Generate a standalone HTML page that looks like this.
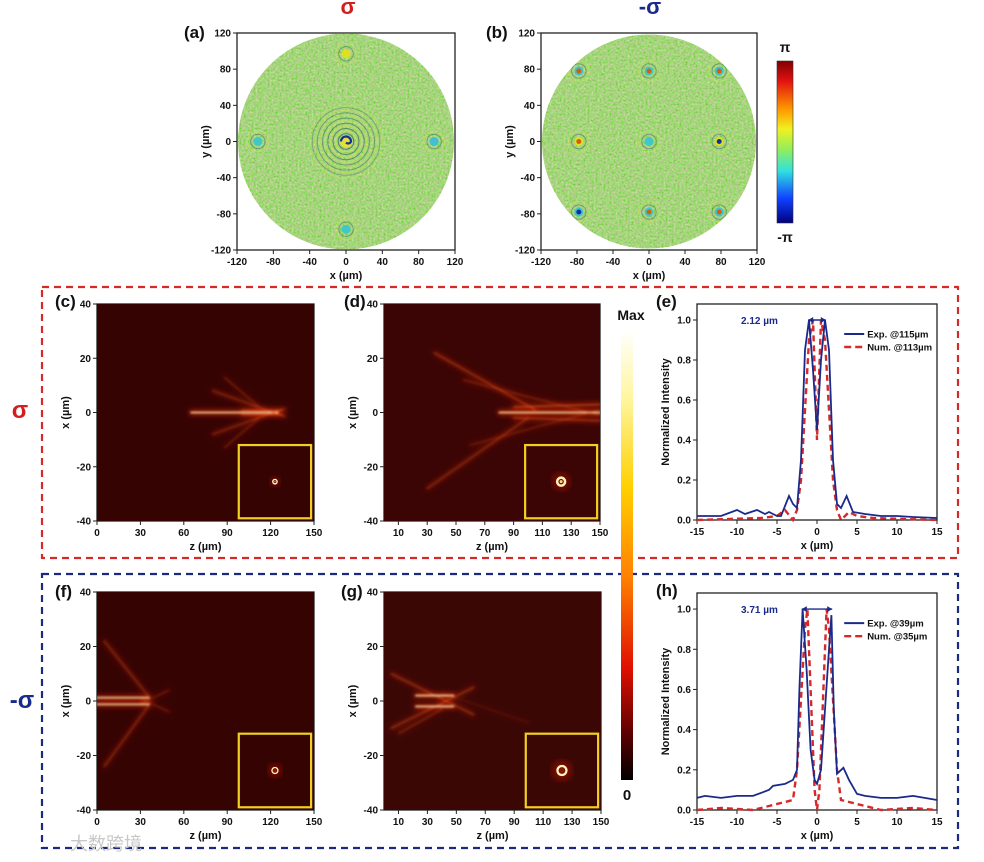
<!DOCTYPE html>
<html><head><meta charset="utf-8"><style>
html,body{margin:0;padding:0;background:#fff;}
svg{display:block;font-family:"Liberation Sans","Noto Sans CJK SC",sans-serif;}
</style></head><body>
<svg id="fig" width="984" height="862" viewBox="0 0 984 862" xmlns="http://www.w3.org/2000/svg">
<defs>
<linearGradient id="jet" x1="0" y1="0" x2="0" y2="1">
<stop offset="0" stop-color="#7f0000"/><stop offset="0.12" stop-color="#e01010"/><stop offset="0.3" stop-color="#ff9a00"/><stop offset="0.42" stop-color="#f0f020"/><stop offset="0.55" stop-color="#90ee60"/><stop offset="0.68" stop-color="#30e0e0"/><stop offset="0.85" stop-color="#1040ff"/><stop offset="1" stop-color="#00007f"/></linearGradient>
<linearGradient id="hot" x1="0" y1="0" x2="0" y2="1">
<stop offset="0" stop-color="#ffffff"/><stop offset="0.15" stop-color="#fff6a0"/><stop offset="0.35" stop-color="#ffd000"/><stop offset="0.55" stop-color="#ff8000"/><stop offset="0.75" stop-color="#e01000"/><stop offset="0.9" stop-color="#5a0000"/><stop offset="1" stop-color="#000000"/></linearGradient>
<filter id="noise" x="0" y="0" width="100%" height="100%">
<feTurbulence type="fractalNoise" baseFrequency="0.5" numOctaves="2" seed="3"/>
<feColorMatrix type="matrix" values="1.3 0 0 0 -0.15  0 0.7 0 0 0.3  1.0 0 0 0 -0.2  0 0 0 0 0.6"/>
</filter>
<filter id="blur1"><feGaussianBlur stdDeviation="1"/></filter>
<filter id="blur3"><feGaussianBlur stdDeviation="3"/></filter>
<filter id="blur4"><feGaussianBlur stdDeviation="4"/></filter>
</defs>
<g id="root"></g>
</svg>
<script>
// ---------- data ----------
const phaseTicks = [-120,-80,-40,0,40,80,120];
const zTicksA = [0,30,60,90,120,150];
const zTicksB = [10,30,50,70,90,110,130,150];
const xTicksHeat = [-40,-20,0,20,40];
const profTicksX = [-15,-10,-5,0,5,10,15];
const profTicksY = [0,0.2,0.4,0.6,0.8,1.0];
const spotsA_x = [0,-97,97,0,0];
const spotsA_y = [0,0,0,97,-97];
const spotsB_x = [-78,0,78,-78,0,78,-78,0,78];
const spotsB_y = [78,78,78,0,0,0,-78,-78,-78];
// beams: z1, x1, z2, x2, intensity (0..1)
const beamsC = [[65,0,125,0,1.0],[80,8,130,-1.5,0.4],[80,-8,130,1.5,0.4],[88,13,112,2,0.25],[88,-13,112,-2,0.25],[100,0.8,128,0.8,0.55],[100,-0.8,128,-0.8,0.55]];
const beamsD = [[35,22,105,1,0.5],[30,-28,100,-2,0.4],[80,0,150,0,1.0],[90,2,150,3,0.65],[90,-2,150,-3,0.55],[55,12,150,-1,0.3],[60,-12,150,1,0.25]];
const beamsF = [[0,1.2,36,1.2,0.9],[0,-1.2,36,-1.2,0.9],[5,22,36,1.5,0.4],[5,-24,36,-1.5,0.4],[30,1,50,-4,0.25],[30,-1,50,4,0.25]];
const beamsG = [[5,10,62,-5,0.45],[5,-10,62,5,0.45],[22,2,48,2,0.95],[22,-2,48,-2,0.95],[10,-12,40,-3,0.3],[40,3,100,-8,0.12]];
const expE_x = [-15,-12,-10,-9,-7.5,-6.5,-6,-5,-4.5,-3.5,-3,-2.5,-2,-1.5,-1,-0.5,0,0.5,1,1.5,2,2.5,3,3.7,4.5,6,8,10,12,15];
const expE_y = [0.02,0.02,0.05,0.03,0.05,0.03,0.04,0.02,0.02,0.12,0.08,0.06,0.3,0.85,1.0,0.75,0.45,0.8,1.0,0.85,0.3,0.08,0.06,0.12,0.04,0.03,0.02,0.02,0.015,0.01];
const numE_x = [-15,-7,-5,-4,-3,-2.5,-2,-1.5,-1,-0.5,0,0.5,1,1.5,2,2.5,3,4,5,7,15];
const numE_y = [0,0.01,0.02,0.05,0,0.05,0.2,0.55,0.9,1.0,0.4,1.0,0.9,0.55,0.2,0.05,0,0.04,0.02,0.01,0];
const expH_x = [-15,-14,-12,-10,-8,-6,-5.5,-4,-3,-2.5,-2.2,-1.8,-1.3,-0.8,-0.3,0,0.5,1,1.5,1.8,2.1,2.5,3.3,4,5,6,8,10,12,15];
const expH_y = [0.06,0.07,0.06,0.07,0.07,0.1,0.12,0.13,0.15,0.2,0.6,1.0,0.7,0.3,0.15,0.13,0.2,0.5,0.8,0.97,0.5,0.18,0.21,0.15,0.08,0.07,0.06,0.06,0.07,0.05];
const numH_x = [-15,-12,-8,-6,-4,-3,-2.5,-2,-1.5,-1.2,-0.8,-0.3,0,0.3,0.8,1.2,1.5,2,2.5,3,4,6,8,12,15];
const numH_y = [0,0.01,0,0.02,0.04,0.05,0.2,0.55,0.9,1.0,0.6,0.1,0,0.1,0.6,1.0,0.9,0.55,0.2,0.05,0.04,0.02,0,0.01,0];

// ---------- helpers ----------
const NS = "http://www.w3.org/2000/svg";
const root = document.getElementById('root');
function el(tag, attrs, parent){
  const e = document.createElementNS(NS, tag);
  for (const k in attrs) e.setAttribute(k, attrs[k]);
  (parent||root).appendChild(e);
  return e;
}
function txt(s, x, y, size, opts, parent){
  const t = el('text', Object.assign({x:x, y:y, 'font-size':size, 'font-weight':'bold', fill:'#111'}, opts||{}), parent);
  t.textContent = s;
  return t;
}
function scale(d0,d1,p0,p1){ return v => p0 + (v-d0)/(d1-d0)*(p1-p0); }

function axes(name, box, xr, yr, xt, yt, xlabel, ylabel, yfmt){
  const g = el('g', {});
  
  
  const sx = scale(xr[0], xr[1], box[0], box[2]);
  const sy = scale(yr[0], yr[1], box[3], box[1]);
  el('rect', {x:box[0], y:box[1], width:box[2]-box[0], height:box[3]-box[1], fill:'none', stroke:'#222', 'stroke-width':1.3}, g);
  xt.forEach(v => {
    const x = sx(v);
    el('line', {x1:x, y1:box[3], x2:x, y2:box[3]+4, stroke:'#222', 'stroke-width':1}, g);
    const t = txt(String(v), x, box[3]+15, 10, {'text-anchor':'middle'}, g);
    
    
  });
  yt.forEach(v => {
    const y = sy(v);
    el('line', {x1:box[0]-4, y1:y, x2:box[0], y2:y, stroke:'#222', 'stroke-width':1}, g);
    const t = txt(yfmt ? yfmt(v) : String(v), box[0]-6, y+3.5, 10, {'text-anchor':'end'}, g);
    
    
  });
  const xl = txt(xlabel, (box[0]+box[2])/2, box[3]+29, 11, {'text-anchor':'middle'}, g);
  
  
  const cy = (box[1]+box[3])/2;
  const yl = txt(ylabel, 0, 0, 11, {'text-anchor':'middle', transform:`translate(${box[0]-28},${cy}) rotate(-90)`}, g);
  
  
  return {sx, sy, g};
}
function panelLabel(s, x, y){
  const t = txt(s, x, y, 17, {});
  
  
}

// ---------- phase panels ----------
function phasePanel(name, box, sxs, sys, isA){
  const a = axes(name, box, [-120,120], [-120,120], phaseTicks, phaseTicks, 'x (µm)', 'y (µm)');
  const cx = a.sx(0), cy = a.sy(0), r = a.sx(120)-a.sx(0) - 1;
  const cid = name + '-clip';
  const cp = el('clipPath', {id:cid}, a.g);
  el('circle', {cx:cx, cy:cy, r:r}, cp);
  const disc = el('g', {'clip-path':`url(#${cid})`}, a.g);
  
  
  el('circle', {cx:cx, cy:cy, r:r, fill:'#86d85a'}, disc);
  el('rect', {x:cx-r, y:cy-r, width:2*r, height:2*r, filter:'url(#noise)'}, disc);
  for (let i=0;i<sxs.length;i++){
    const px = a.sx(sxs[i]), py = a.sy(sys[i]);
    const big = isA && i===0;
    const spot = el('g', {}, disc);
    
    
    const nr = big ? 14 : 2;
    for (let k=nr;k>=1;k--){
      el('circle', {cx:px, cy:py, r:(big? k*2.6 : 4+k*3.2), fill:'none', stroke: k%2 ? '#2a5a60' : '#d8e840', 'stroke-width':1, opacity: big ? (0.8 - k*0.035) : 0.45}, spot);
    }
    const col = (i%3===1) ? '#40c8c8' : (i%2 ? '#e0e020' : '#40c0d0');
    el('circle', {cx:px, cy:py, r: big?6:4.5, fill: big ? '#e8e030' : col}, spot);
    if (big){
      el('path', {d:`M${px-5} ${py} A5 5 0 0 1 ${px+5} ${py} A3 3 0 0 1 ${px} ${py+1}`, fill:'none', stroke:'#1030a0', 'stroke-width':2.2}, spot);
    } else if (!isA && i!==4) {
      el('circle', {cx:px, cy:py, r:2.5, fill: (i===5||i===6) ? '#1030a0' : '#d06010'}, spot);
    }
  }
}
phasePanel('phase-map-sigma', [237,33,455,250], spotsA_x, spotsA_y, true);
phasePanel('phase-map-minus-sigma', [541,33,757,250], spotsB_x, spotsB_y, false);
panelLabel('(a)', 184, 38);
panelLabel('(b)', 486, 38);
let t;
t = txt('σ', 348, 14, 22, {fill:'#d21e1e','text-anchor':'middle'});  
t = txt('-σ', 650, 14, 22, {fill:'#1a2a8a','text-anchor':'middle'});  
// phase colorbar
let cb = el('rect', {x:777, y:61, width:16, height:162, fill:'url(#jet)', stroke:'#333', 'stroke-width':0.6});
 
t = txt('π', 785, 52, 14, {'text-anchor':'middle'});  
t = txt('-π', 785, 242, 14, {'text-anchor':'middle'});  

// ---------- group boxes ----------
let bx = el('rect', {x:42, y:287, width:916, height:271, fill:'none', stroke:'#d42a2a', 'stroke-width':2.2, 'stroke-dasharray':'7 5'});
 
bx = el('rect', {x:42, y:574, width:916, height:274, fill:'none', stroke:'#1a2a80', 'stroke-width':2.2, 'stroke-dasharray':'7 5'});
 
t = txt('σ', 20, 418, 24, {fill:'#d21e1e','text-anchor':'middle'});  
t = txt('-σ', 22, 708, 24, {fill:'#1a2a8a','text-anchor':'middle'});  

// ---------- heatmaps ----------
function heatPanel(name, box, zt, beams, ringInset, bg){
  const a = axes(name, box, [0,150], [-40,40], zt, xTicksHeat, 'z (µm)', 'x (µm)');
  const cid = name+'-clip';
  const cp = el('clipPath', {id:cid}, a.g);
  el('rect', {x:box[0], y:box[1], width:box[2]-box[0], height:box[3]-box[1]}, cp);
  const m = el('g', {'clip-path':`url(#${cid})`}, a.g);
  el('rect', {x:box[0], y:box[1], width:box[2]-box[0], height:box[3]-box[1], fill:bg}, m);
  const glow = el('g', {filter:'url(#blur3)'}, m);
  const core = el('g', {filter:'url(#blur1)'}, m);
  beams.forEach(b => {
    const l = el('line', {x1:a.sx(b[0]), y1:a.sy(b[1]), x2:a.sx(b[2]), y2:a.sy(b[3]), stroke:'#e82a06', 'stroke-width':4, 'stroke-linecap':'round', opacity:b[4]*0.8}, glow);
     
    const c = el('line', {x1:a.sx(b[0]), y1:a.sy(b[1]), x2:a.sx(b[2]), y2:a.sy(b[3]), stroke: b[4]>0.8 ? '#fff0b0' : '#ff7a30', 'stroke-width': b[4]>0.8 ? 1.6 : 1.0, 'stroke-linecap':'round', opacity:b[4]}, core);
     
  });
  // inset
  const ix0 = a.sx(98), ix1 = a.sx(148), iy0 = a.sy(-12), iy1 = a.sy(-39);
  const ins = el('g', {}, m);
   
  el('rect', {x:ix0, y:iy0, width:ix1-ix0, height:iy1-iy0, fill:bg}, ins);
  const cx = (ix0+ix1)/2, cy = (iy0+iy1)/2;
  el('circle', {cx:cx, cy:cy, r:ringInset[0]*2.2, fill:'#c81800', opacity:0.5, filter:'url(#blur4)'}, ins);
  el('circle', {cx:cx, cy:cy, r:ringInset[0], fill:'none', stroke:'#fff4c0', 'stroke-width':ringInset[1]}, ins);
  el('circle', {cx:cx, cy:cy, r:Math.max(ringInset[0]-ringInset[1],0.8), fill:ringInset[2]}, ins);
  el('rect', {x:ix0, y:iy0, width:ix1-ix0, height:iy1-iy0, fill:'none', stroke:'#f0d020', 'stroke-width':2.2}, ins);
  return a;
}
heatPanel('intensity-map-c', [97,304,314,521], zTicksA, beamsC, [2.2,1.4,'#ff7a40'], '#360303');
heatPanel('intensity-map-d', [384,304,600,521], zTicksB, beamsD, [4,2.5,'#ffe080'], '#3a0504');
heatPanel('intensity-map-f', [97,592,314,810], zTicksA, beamsF, [3,1.3,'#a01000'], '#360303');
heatPanel('intensity-map-g', [384,592,601,810], zTicksB, beamsG, [4.5,2.2,'#802000'], '#3a0705');
panelLabel('(c)', 55, 307);
panelLabel('(d)', 344, 307);
panelLabel('(f)', 55, 597);
panelLabel('(g)', 341, 597);
// intensity colorbar
cb = el('rect', {x:621, y:330, width:12, height:450, fill:'url(#hot)'});
 
t = txt('Max', 631, 320, 14, {'text-anchor':'middle'});  
t = txt('0', 627, 800, 15, {'text-anchor':'middle'});  

// ---------- profile plots ----------
function profile(name, box, ex, ey, nx, ny, wlabel, l1, l2, arrowX){
  const a = axes(name, box, [-15,15], [0,1.08], profTicksX, profTicksY, 'x (µm)', 'Normalized Intensity', v => v.toFixed(1));
  const pts = (xs, ys) => xs.map((v,i) => `${a.sx(v).toFixed(1)},${a.sy(ys[i]).toFixed(1)}`).join(' ');
  const n = el('polyline', {points:pts(nx,ny), fill:'none', stroke:'#d42a2a', 'stroke-width':2.4, 'stroke-dasharray':'6 4'}, a.g);
   
  const e = el('polyline', {points:pts(ex,ey), fill:'none', stroke:'#1a2a8a', 'stroke-width':1.8}, a.g);
   
  const ay = a.sy(1.0);
  const ar = el('g', {}, a.g);
   
  el('line', {x1:a.sx(arrowX[0]), y1:ay, x2:a.sx(arrowX[1]), y2:ay, stroke:'#1a2a8a', 'stroke-width':1.4}, ar);
  el('path', {d:`M${a.sx(arrowX[0])} ${ay} l5 -3 v6z M${a.sx(arrowX[1])} ${ay} l-5 -3 v6z`, fill:'#1a2a8a'}, ar);
  const w = txt(wlabel, a.sx(-9.5), ay+4, 10, {fill:'#1a2a8a'}, a.g);
   
  const lg = el('g', {}, a.g);
   
  const lx = a.sx(3.4), ly = a.sy(0.93);
  el('line', {x1:lx, y1:ly, x2:lx+20, y2:ly, stroke:'#1a2a8a', 'stroke-width':2}, lg);
  txt(l1, lx+23, ly+3.5, 9.5, {}, lg);
  el('line', {x1:lx, y1:ly+13, x2:lx+20, y2:ly+13, stroke:'#d42a2a', 'stroke-width':2.4, 'stroke-dasharray':'7 4'}, lg);
  txt(l2, lx+23, ly+16.5, 9.5, {}, lg);
}
profile('profile-plot-e', [697,304,937,520], expE_x, expE_y, numE_x, numE_y, '2.12 µm', 'Exp.  @115µm', 'Num. @113µm', [-1.1,1.1]);
profile('profile-plot-h', [697,593,937,810], expH_x, expH_y, numH_x, numH_y, '3.71 µm', 'Exp.  @39µm', 'Num. @35µm', [-1.9,1.9]);
panelLabel('(e)', 656, 307);
panelLabel('(h)', 656, 596);
t = txt('大数跨境', 70, 850, 18, {fill:'#c8c8c8', 'font-weight':'normal'});  
</script>
</body></html>
